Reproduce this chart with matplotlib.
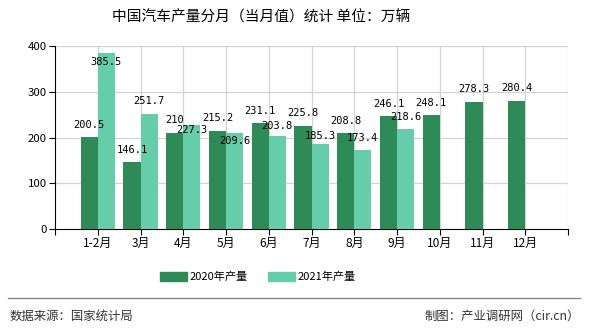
import matplotlib
matplotlib.use("Agg")
import matplotlib.pyplot as plt
import numpy as np
from matplotlib.patches import Patch
from matplotlib.lines import Line2D

plt.rcParams["font.family"] = ["Noto Sans CJK SC", "DejaVu Sans"]

months = ["1-2月", "3月", "4月", "5月", "6月", "7月", "8月", "9月", "10月", "11月", "12月"]
output_2020 = [200.5, 146.1, 210, 215.2, 231.1, 225.8, 208.8, 246.1, 248.1, 278.3, 280.4]
output_2021 = [385.5, 251.7, 227.3, 209.6, 203.8, 185.3, 173.4, 218.6]

C2020 = "#2e8b57"
C2021 = "#66cdaa"
# label centre offsets (px) from bar top, 2021 labels are shuffled to avoid overlap
dy_2021 = [-9.5, 13, -5, -7.7, 9.5, 8.5, 12, 12]
dy_2020 = 12.5

fig = plt.figure(figsize=(5.9, 3.3), dpi=100)
ax = fig.add_axes([55 / 590, 1 - 229 / 330, 513 / 590, 183 / 330])

x = np.arange(1, len(months) + 1)
w = 0.4
ax.bar(x - w / 2, output_2020, width=w, color=C2020, zorder=3)
x21 = x[: len(output_2021)]
ax.bar(x21 + w / 2, output_2021, width=w, color=C2021, zorder=3)

px2pt = 0.72
for xi, v in zip(x, output_2020):
    ax.annotate(f"{v:g}", (xi - w / 2, v), xytext=(0, dy_2020 * px2pt), textcoords="offset points",
                ha="center", va="center", fontsize=7.5, family="DejaVu Sans Mono", zorder=5)
for xi, v, d in zip(x21, output_2021, dy_2021):
    ax.annotate(f"{v:g}", (xi + w / 2, v), xytext=(0, d * px2pt), textcoords="offset points",
                ha="center", va="center", fontsize=7.5, family="DejaVu Sans Mono", zorder=5)

ax.set_xlim(0, 12)
ax.set_ylim(0, 400)
ax.set_xticks(np.arange(0, 13))
ax.set_xticklabels([""] + months + [""], fontsize=8.6)
ax.set_yticks([0, 100, 200, 300, 400])
ax.tick_params(axis="y", labelsize=8.2, length=4, width=0.8, pad=2)
ax.tick_params(axis="x", length=4, width=0.8, pad=2)

for v in [100, 200, 300, 400]:
    ax.axhline(v, color="#d3d3d3", lw=0.9, zorder=1)
for xi in range(1, 13):
    ax.axvline(xi, color="#d3d3d3", lw=0.9, zorder=1)

for s in ["top", "right"]:
    ax.spines[s].set_visible(False)
ax.spines["left"].set_color("black")
ax.spines["bottom"].set_color("black")

fig.text(261 / 590, 1 - 17 / 330, "中国汽车产量分月（当月值）统计 单位：万辆", ha="center", va="center", fontsize=10.6)

handles = [Patch(color=C2020, label="2020年产量"), Patch(color=C2021, label="2021年产量")]
fig.legend(handles=handles, loc="center", bbox_to_anchor=(258 / 590, 1 - 277 / 330), ncol=2, frameon=False,
           fontsize=8, handlelength=2.4, handleheight=0.9, columnspacing=1.8, handletextpad=0.3)

fig.add_artist(Line2D([8 / 590, 580 / 590], [1 - 298 / 330, 1 - 298 / 330], color="#888888", lw=1.0))
fig.text(10 / 590, 1 - 316 / 330, "数据来源：国家统计局", ha="left", va="center", fontsize=8.9, color="#333333")
fig.text(580 / 590, 1 - 316 / 330, "制图：产业调研网（cir.cn）", ha="right", va="center", fontsize=8.9, color="#333333")

fig.savefig("out.png", dpi=100)
